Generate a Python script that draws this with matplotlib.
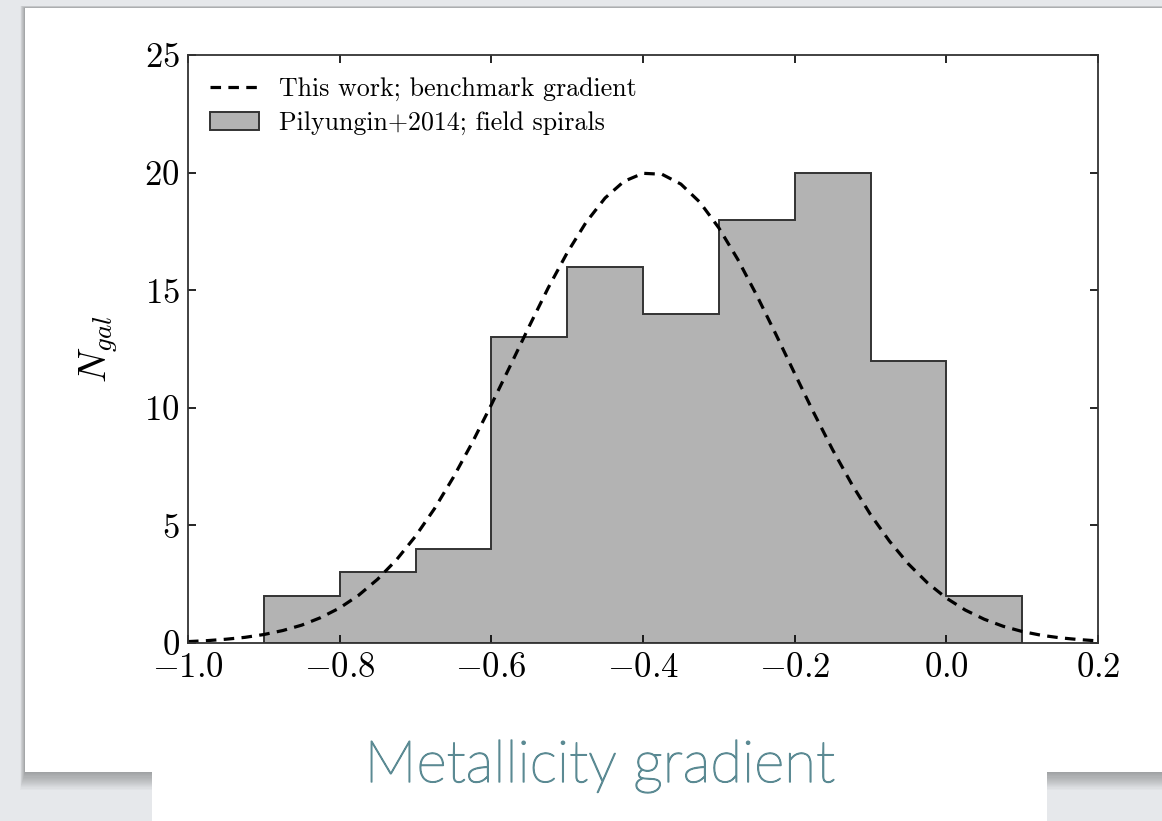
import numpy as np
import matplotlib
matplotlib.use("Agg")
import matplotlib.pyplot as plt
import matplotlib.patheffects as pe
from matplotlib.patches import Rectangle

# ── Data ─────────────────────────────────────────────────────
# Pilyungin+2014 field spirals, histogram (bin edges and counts)
bin_edges = [-0.9, -0.8, -0.7, -0.6, -0.5, -0.4, -0.3, -0.2, -0.1, 0.0, 0.1]
counts    = [2, 3, 4, 13, 16, 14, 18, 20, 12, 2]

# This work; benchmark gradient (dashed curve)
curve_x = [-1.0, -0.975, -0.95, -0.925, -0.9, -0.875, -0.85, -0.825, -0.8,
           -0.775, -0.75, -0.725, -0.7, -0.675, -0.65, -0.625, -0.6, -0.575,
           -0.55, -0.525, -0.5, -0.475, -0.45, -0.425, -0.4, -0.375, -0.35,
           -0.325, -0.3, -0.275, -0.25, -0.225, -0.2, -0.175, -0.15, -0.125,
           -0.1, -0.075, -0.05, -0.025, 0.0, 0.025, 0.05, 0.075, 0.1, 0.125,
           0.15, 0.175, 0.2]
curve_y = [0.06, 0.10, 0.16, 0.24, 0.36, 0.53, 0.76, 1.08, 1.49,
           2.03, 2.71, 3.54, 4.54, 5.71, 7.05, 8.53, 10.13, 11.79,
           13.47, 15.10, 16.59, 17.89, 18.92, 19.63, 19.97, 19.93, 19.51,
           18.74, 17.65, 16.31, 14.78, 13.14, 11.46, 9.80, 8.22, 6.77,
           5.46, 4.33, 3.36, 2.56, 1.91, 1.40, 1.01, 0.71, 0.49, 0.33,
           0.22, 0.145, 0.09]

x_ticks = [-1.0, -0.8, -0.6, -0.4, -0.2, 0.0, 0.2]
y_ticks = [0, 5, 10, 15, 20, 25]

# ── Style ────────────────────────────────────────────────────
plt.rcParams['font.family'] = 'serif'
plt.rcParams['font.serif'] = ['cmr10']
plt.rcParams['mathtext.fontset'] = 'cm'
plt.rcParams['axes.formatter.use_mathtext'] = True
plt.rcParams['axes.unicode_minus'] = True

W, H = 1162, 821
fig = plt.figure(figsize=(W / 100, H / 100), dpi=100)
fig.patch.set_facecolor('#e6e8eb')


def px_rect(x0, y0, x1, y1, **kw):
    """Rectangle given in pixel coords (top-left origin)."""
    r = Rectangle((x0 / W, 1 - y1 / H), (x1 - x0) / W, (y1 - y0) / H,
                  transform=fig.transFigure, linewidth=0, **kw)
    fig.patches.append(r)
    return r


# ── Slide card with soft shadow ──────────────────────────────
for k in range(16, 0, -1):
    px_rect(25 - k * 0.3, 8 - k * 0.15, W + 5, 772 + k * 1.1,
            facecolor='black', alpha=0.02, zorder=-20)
px_rect(25, 8, W + 5, 772, facecolor='white', zorder=-10)
px_rect(152, 770, 1047, H + 5, facecolor='white', zorder=-9)

# ── Axes ─────────────────────────────────────────────────────
ax = fig.add_axes([188 / W, 1 - 643 / H, (1098 - 188) / W, (643 - 55) / H])
ax.set_facecolor('white')

ax.hist(bin_edges[:-1], bins=bin_edges, weights=counts, histtype='stepfilled',
        facecolor='#b3b3b3', edgecolor='#333333', linewidth=1.4,
        label='Pilyungin+2014; field spirals')
ax.plot(curve_x, curve_y, color='black', linewidth=2.3,
        linestyle=(0, (3.3, 2.3)), label='This work; benchmark gradient')

ax.set_xlim(-1.0, 0.2)
ax.set_ylim(0, 25)
ax.set_xticks(x_ticks)
ax.set_yticks(y_ticks)
ax.tick_params(direction='in', top=True, right=True, length=6, width=1.2,
               labelsize=25, colors='black')
ax.tick_params(axis='x', pad=7)
ax.tick_params(axis='y', pad=6)
for s in ax.spines.values():
    s.set_linewidth(1.3)
    s.set_color('#333333')

ax.set_ylabel(r'$N_{gal}$', fontsize=28)
ax.yaxis.set_label_coords(-0.075, 0.5)

handles, labels = ax.get_legend_handles_labels()
ax.legend(handles[::-1], labels[::-1], loc='upper left', frameon=False,
          fontsize=18.7, handlelength=1.9, handletextpad=0.75,
          labelspacing=0.4, borderaxespad=0.45)

# ── Slide caption ────────────────────────────────────────────
cap_color = '#5b8a93'
fig.text(600 / W, 1 - 782 / H, 'Metallicity gradient', ha='center',
         va='baseline', fontsize=42, color=cap_color, family='Lato',
         fontweight='light',
         path_effects=[pe.withStroke(linewidth=1.0, foreground=cap_color)])

fig.savefig('out.png', dpi=100, facecolor=fig.get_facecolor())
